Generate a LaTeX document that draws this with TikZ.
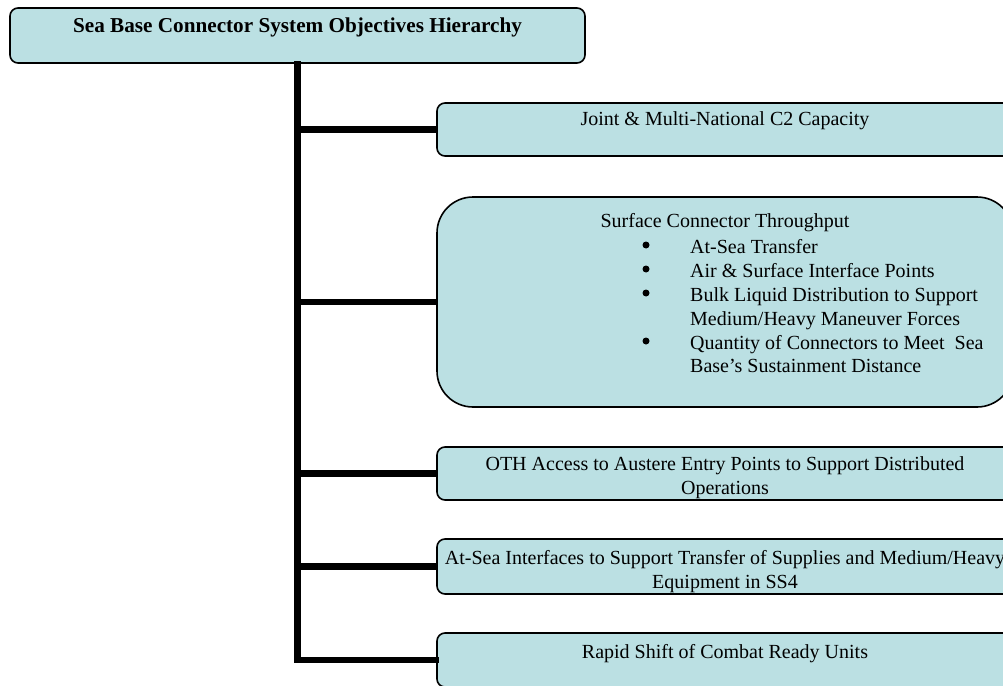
\documentclass[tikz,border=0pt]{standalone}
\usepackage{fontspec}
\setmainfont{Liberation Serif}
\definecolor{boxfill}{HTML}{BBE0E3}
\begin{document}
\begin{tikzpicture}[x=1pt, y=-1pt,
  objbox/.style={draw=black, line width=1.6pt, fill=boxfill, rectangle,
    inner sep=0pt, minimum width=576pt, rounded corners=8pt},
  titlebox/.style={objbox, minimum width=575pt, minimum height=55pt},
  lbl/.style={anchor=north, inner sep=0pt, align=center,
    font=\fontsize{20}{24}\selectfont},
  listdot/.style={circle, fill=black, inner sep=0pt, minimum size=7pt},
  trunk/.style={line width=6.5pt, line cap=rect}
]
\useasboundingbox (0,0) rectangle (1003,685);
\clip (0,0) rectangle (1003,685);

% top of the hierarchy
\node[titlebox] (top) at (297.5,35.5) {};
\node[lbl, font=\fontsize{21.2}{25}\selectfont\bfseries] (toptext) at (297.5,17.5)
  {Sea Base Connector System Objectives Hierarchy};

% objective boxes
\node[objbox, minimum height=53pt] (b1) at (725,129.5) {};
\node[objbox, minimum height=210pt, rounded corners=36pt] (b2) at (725,302) {};
\node[objbox, minimum height=53pt] (b3) at (725,473.5) {};
\node[objbox, minimum height=55pt] (b4) at (725,566.5) {};
\node[objbox, minimum height=54pt] (b5) at (725,660) {};

% connectors from the top box to each objective
\draw[trunk] (top.south) |- (b5.west);
\foreach \b in {b1,b2,b3,b4}
  \draw[line width=6.5pt] (top.south |- \b.west) -- (\b.west);

% labels
\node[lbl] (t1) at (725,111) {Joint \& Multi-National C2 Capacity};
\node[lbl] (t2) at (725,213) {Surface Connector Throughput};
\node[anchor=north west, inner sep=0pt, font=\fontsize{20}{23.8}\selectfont] (t2list) at (690,237)
  {\begin{tabular}{@{}l@{}}
   At-Sea Transfer\\
   Air \& Surface Interface Points\\
   Bulk Liquid Distribution to Support\\
   Medium/Heavy Maneuver Forces\\
   Quantity of Connectors to Meet~ Sea\\
   Base’s Sustainment Distance
   \end{tabular}};
% list bullets
\node[listdot] (d1) at (646,245) {};
\node[listdot] (d2) at (646,269) {};
\node[listdot] (d3) at (646,293) {};
\node[listdot] (d4) at (646,341) {};
\node[lbl] (t3) at (725,456) {OTH Access to Austere Entry Points to Support Distributed\\Operations};
\node[lbl] (t4) at (725,550) {At-Sea Interfaces to Support Transfer of Supplies and Medium/Heavy\\Equipment in SS4};
\node[lbl] (t5) at (725,644) {Rapid Shift of Combat Ready Units};
\end{tikzpicture}
\end{document}
